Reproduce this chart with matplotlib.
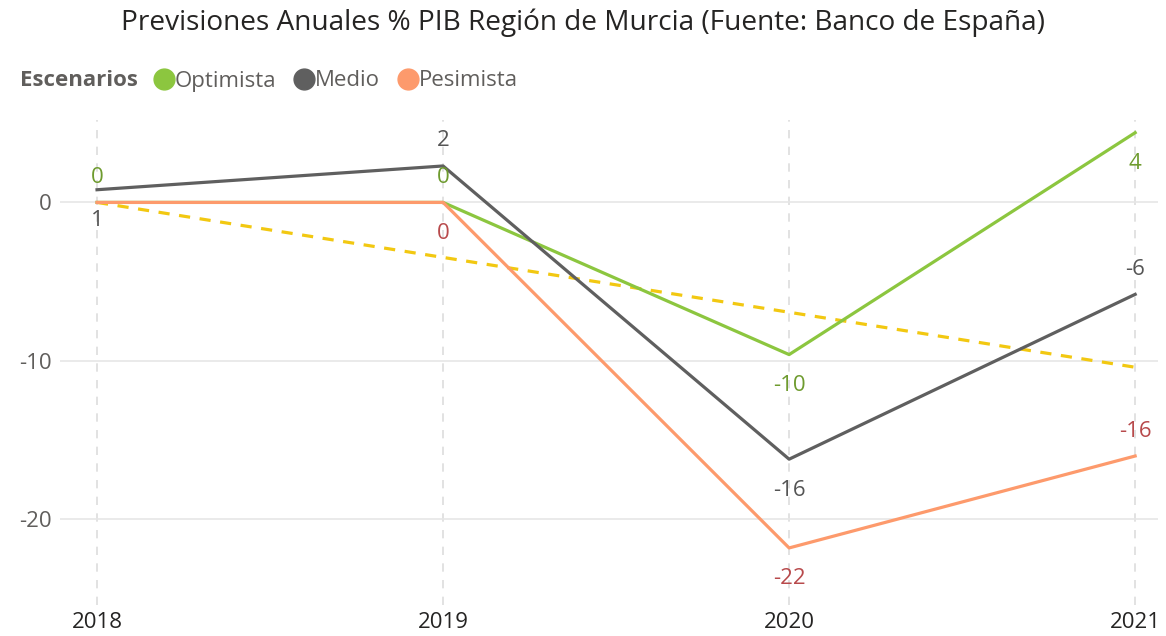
import matplotlib.pyplot as plt
from matplotlib.lines import Line2D

plt.rcParams['font.family'] = ['Open Sans', 'DejaVu Sans']
plt.rcParams['axes.unicode_minus'] = False

# Datos (% PIB)
anios = ['2018', '2019', '2020', '2021']
optimista = [0.0, 0.0, -9.6, 4.4]
medio = [0.8, 2.3, -16.2, -5.8]
pesimista = [0.0, 0.0, -21.8, -16.0]
tendencia = [0.0, -3.47, -6.93, -10.4]

x = list(range(len(anios)))

fig = plt.figure(figsize=(11.66, 6.36), dpi=100)
ax = fig.add_axes([60 / 1166, 1 - 605 / 636, 1098 / 1166, 485 / 636])

c_opt, c_med, c_pes, c_tend = '#8CC63F', '#5F5F5F', '#FD9A6C', '#F2C811'
l_opt, l_med, l_pes = '#6E9B2E', '#555555', '#B84A4C'

ax.plot(x, tendencia, color=c_tend, lw=2.3, ls=(0, (3.5, 3)), zorder=2)
ax.plot(x, optimista, color=c_opt, lw=2.3, zorder=3)
ax.plot(x, medio, color=c_med, lw=2.3, zorder=4)
ax.plot(x, pesimista, color=c_pes, lw=2.3, zorder=3)

# etiquetas de datos: 'a' encima, 'b' debajo, None oculta
series = [
    (optimista, l_opt, ['a', 'a', 'b', 'b']),
    (medio, l_med, ['b', 'a', 'b', 'a']),
    (pesimista, l_pes, [None, 'b', 'b', 'a']),
]
for vals, col, pos in series:
    for xi, v, p in zip(x, vals, pos):
        if p is None:
            continue
        dy = 25 if p == 'a' else -31
        ax.annotate(f'{v:.0f}', (xi, v), xytext=(0, dy), textcoords='offset pixels',
                    ha='center', va='center', color=col, fontsize=16, zorder=5)

ax.set_xlim(-0.107, 3.066)
ax.set_ylim(-25.4, 5.2)
ax.set_xticks(x)
ax.set_xticklabels(anios)
ax.set_yticks([0, -10, -20])
ax.set_yticklabels(['0', '-10', '-20'])
ax.tick_params(axis='x', length=0, labelsize=16, labelcolor='#252423', pad=5)
ax.tick_params(axis='y', length=0, labelsize=16, labelcolor='#605E5C', pad=6)

for xi in x:
    ax.axvline(xi, color='#DDDDDD', lw=1.2, ls=(0, (5, 5)), zorder=1)
for yv in [0, -10, -20]:
    ax.axhline(yv, color='#E6E6E6', lw=1.2, zorder=1)
for s in ax.spines.values():
    s.set_visible(False)

fig.text(0.5, 1 - 23 / 636, 'Previsiones Anuales % PIB Región de Murcia (Fuente: Banco de España)',
         ha='center', va='center', fontsize=20.2, color='#252423')
fig.text(20 / 1166, 1 - 80 / 636, 'Escenarios', ha='left', va='center',
         fontsize=16, fontweight='bold', color='#605E5C')

handles = [Line2D([], [], marker='o', ls='none', markersize=15, color=c)
           for c in (c_opt, c_med, c_pes)]
fig.legend(handles, ['Optimista', 'Medio', 'Pesimista'], loc='center left',
           bbox_to_anchor=(157 / 1166, 1 - 81 / 636), ncol=3, frameon=False,
           handlelength=0.6, handletextpad=0.2, columnspacing=0.95,
           prop={'size': 16}, labelcolor='#605E5C', borderaxespad=0, borderpad=0)

fig.savefig('out.png', dpi=100)
